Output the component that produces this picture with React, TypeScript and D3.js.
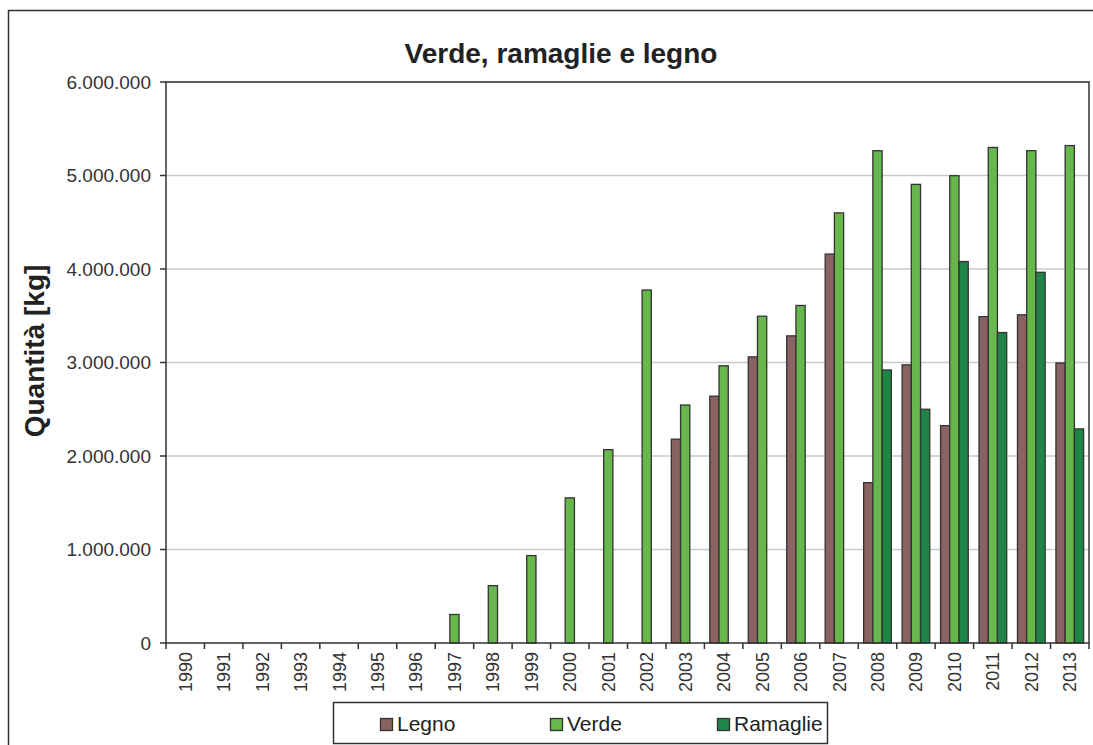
import React from "react";
import * as d3 from "d3";

const years = ["1990","1991","1992","1993","1994","1995","1996","1997","1998","1999","2000","2001","2002","2003","2004","2005","2006","2007","2008","2009","2010","2011","2012","2013"];
const legno = [0,0,0,0,0,0,0,0,0,0,0,0,0,2180000,2640000,3060000,3285000,4160000,1715000,2975000,2325000,3490000,3510000,2995000];
const verde = [0,0,0,0,0,0,0,305000,613000,935000,1552000,2068000,3775000,2545000,2965000,3495000,3610000,4600000,5265000,4905000,4998000,5300000,5265000,5320000];
const ramaglie = [0,0,0,0,0,0,0,0,0,0,0,0,0,0,0,0,0,0,2920000,2500000,4080000,3320000,3965000,2290000];
const seriesNames = ["Legno","Verde","Ramaglie"];
const seriesColors = ["#8a6262","#67b74d","#1f8448"];
const yTicks = [0,1000000,2000000,3000000,4000000,5000000,6000000];
const title = "Verde, ramaglie e legno";
const yTitle = "Quantità [kg]";

const fmt = (v: number) => d3.format(",")(v).replace(/,/g, ".");

export default function App() {
  const W = 1093, H = 745;
  const left = 166, right = 1089, top = 82, bottom = 643;
  const seriesData = [legno, verde, ramaglie];
  const x0 = d3.scaleBand<string>().domain(years).range([left, right]).padding(0);
  const groupW = x0.bandwidth() * 0.72;
  const x1 = d3.scaleBand<string>().domain(seriesNames).range([0, groupW]).padding(0);
  const y = d3.scaleLinear().domain([0, 6000000]).range([bottom, top]);
  const font = "'Liberation Sans', Arial, sans-serif";
  const bounds = years.map((_, i) => left + i * x0.step()).concat([right]);

  return (
    <svg width={W} height={H} style={{ position: "fixed", left: 0, top: 0, background: "#fff" }} fontFamily={font}>
      <rect x={0} y={0} width={W} height={H} fill="#fff" />
      <rect x={8.5} y={10.5} width={1200} height={900} fill="none" stroke="#333" strokeWidth={1.5} />
      <text x={561} y={63} textAnchor="middle" fontSize={28} fontWeight="bold" fill="#222">{title}</text>
      {yTicks.filter(t => t > 0).map(t => (
        <line key={"g" + t} x1={left} x2={right} y1={y(t)} y2={y(t)} stroke="#c8c9ce" strokeWidth={1.5} />
      ))}
      {seriesData.map((arr, si) => arr.map((v, i) => v > 0 ? (
        <rect key={si + "-" + i}
          x={(x0(years[i]) as number) + (x0.bandwidth() - groupW) / 2 + (x1(seriesNames[si]) as number)}
          y={y(v)} width={x1.bandwidth()} height={y(0) - y(v)}
          fill={seriesColors[si]} stroke="#333" strokeWidth={1.3} />
      ) : null))}
      <rect x={left} y={top} width={right - left} height={bottom - top} fill="none" stroke="#333" strokeWidth={1.5} />
      {yTicks.map(t => (
        <g key={"t" + t}>
          <line x1={left - 6} x2={left} y1={y(t)} y2={y(t)} stroke="#333" strokeWidth={1.5} />
          <text x={151} y={y(t)} dy="0.35em" textAnchor="end" fontSize={19} fill="#333">{fmt(t)}</text>
        </g>
      ))}
      {bounds.map((b, i) => (
        <line key={"xt" + i} x1={b} x2={b} y1={bottom} y2={bottom + 6} stroke="#333" strokeWidth={1.5} />
      ))}
      {years.map(yr => {
        const cx = (x0(yr) as number) + x0.bandwidth() / 2;
        return (
          <text key={"xl" + yr} transform={`translate(${cx + 6.5},652) rotate(-90)`} textAnchor="end" fontSize={18} fill="#333">{yr}</text>
        );
      })}
      <text transform={`translate(44,351) rotate(-90)`} textAnchor="middle" fontSize={28} fontWeight="bold" fill="#222">{yTitle}</text>
      <rect x={333.5} y={702.5} width={494} height={41} fill="#fff" stroke="#333" strokeWidth={1.5} />
      {seriesNames.map((s, i) => {
        const lx = [380, 550, 717][i];
        return (
          <g key={"lg" + s}>
            <rect x={lx + 0.5} y={718.5} width={12} height={12} fill={seriesColors[i]} stroke="#333" strokeWidth={1.3} />
            <text x={lx + 17} y={731} fontSize={21} fill="#222">{s}</text>
          </g>
        );
      })}
    </svg>
  );
}
